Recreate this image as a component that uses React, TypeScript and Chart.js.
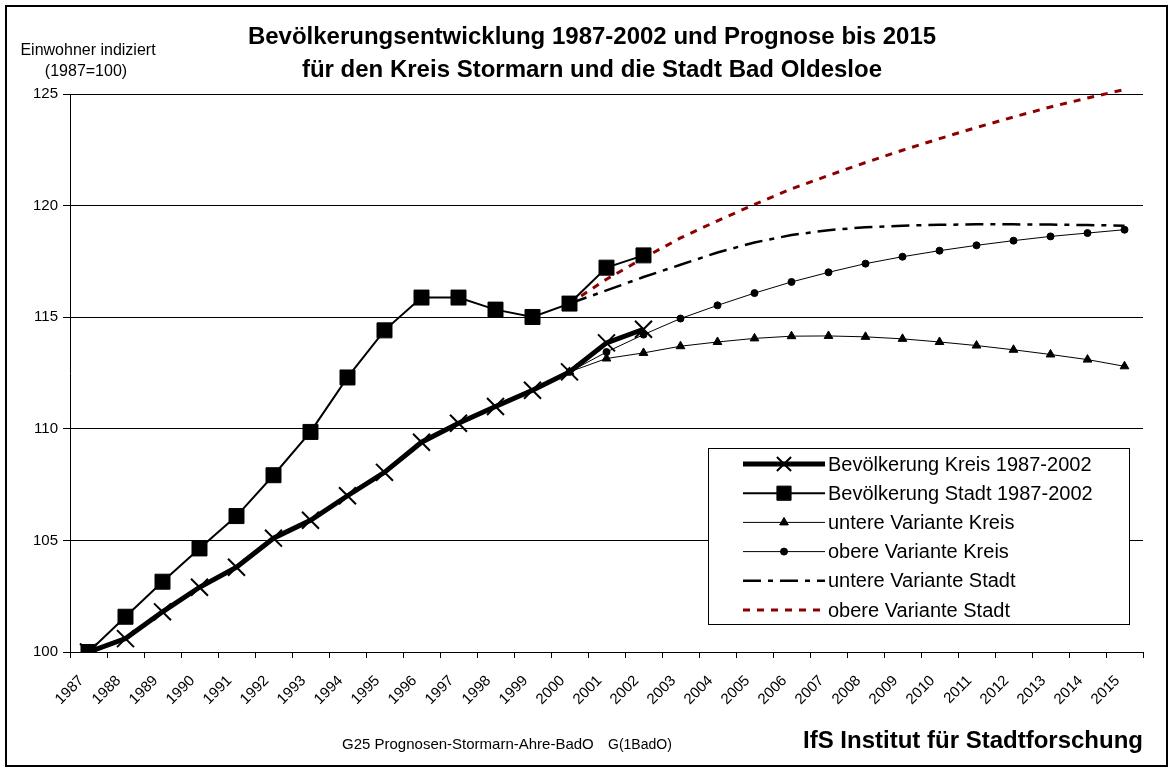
import React, { useEffect, useRef } from 'react';
import { Chart, registerables } from 'chart.js';
import { drawPoint } from 'chart.js/helpers';

Chart.register(...registerables);

const FONT = "'Liberation Sans', Arial, Helvetica, sans-serif";

const titleLines = [
  'Bevölkerungsentwicklung 1987-2002 und Prognose bis 2015',
  'für den Kreis Stormarn und die Stadt Bad Oldesloe',
];
const yTitleLines = ['Einwohner indiziert', '(1987=100)'];
const footerLeft = 'G25 Prognosen-Stormarn-Ahre-BadO';
const footerMid = 'G(1BadO)';
const footerRight = 'IfS Institut für Stadtforschung';

const years = [
  '1987', '1988', '1989', '1990', '1991', '1992', '1993', '1994', '1995', '1996',
  '1997', '1998', '1999', '2000', '2001', '2002', '2003', '2004', '2005', '2006',
  '2007', '2008', '2009', '2010', '2011', '2012', '2013', '2014', '2015',
];

const yTicks = [100, 105, 110, 115, 120, 125];

const N = null;
const kreis = [100, 100.6, 101.8, 102.9, 103.8, 105.1, 105.9, 107.0, 108.05, 109.4,
  110.25, 111.0, 111.73, 112.55, 113.85, 114.46, N, N, N, N, N, N, N, N, N, N, N, N, N];
const stadt = [100, 101.58, 103.15, 104.64, 106.09, 107.92, 109.86, 112.3, 114.41, 115.88,
  115.88, 115.34, 115.01, 115.61, 117.22, 117.77, N, N, N, N, N, N, N, N, N, N, N, N, N];
const untereKreis = [N, N, N, N, N, N, N, N, N, N, N, N, N,
  112.55, 113.15, 113.4, 113.7, 113.89, 114.05, 114.15, 114.16, 114.12, 114.03, 113.89, 113.73, 113.54, 113.33, 113.1, 112.8];
const obereKreis = [N, N, N, N, N, N, N, N, N, N, N, N, N,
  112.55, 113.44, 114.22, 114.94, 115.53, 116.08, 116.58, 117.01, 117.4, 117.71, 117.98, 118.22, 118.43, 118.62, 118.77, 118.92];
const untereStadt = [N, N, N, N, N, N, N, N, N, N, N, N, N,
  115.61, 116.2, 116.8, 117.35, 117.9, 118.35, 118.68, 118.9, 119.03, 119.1, 119.14, 119.16, 119.16, 119.15, 119.13, 119.1];
const obereStadt = [N, N, N, N, N, N, N, N, N, N, N, N, N,
  115.61, 116.7, 117.65, 118.55, 119.32, 120.05, 120.75, 121.35, 121.93, 122.48, 123.0, 123.5, 123.97, 124.42, 124.82, 125.2];

const seriesNames = [
  'Bevölkerung Kreis 1987-2002',
  'Bevölkerung Stadt 1987-2002',
  'untere Variante Kreis',
  'obere Variante Kreis',
  'untere Variante Stadt',
  'obere Variante Stadt',
];

const RED = '#8c0000';

const legendPlugin = {
  id: 'decorations',
  beforeDraw(chart: any) {
    const ctx = chart.ctx;
    ctx.save();
    ctx.fillStyle = '#fff';
    ctx.fillRect(0, 0, chart.width, chart.height);
    ctx.restore();
  },
  afterDraw(chart: any) {
    const ctx = chart.ctx as CanvasRenderingContext2D;
    ctx.save();
    // outer frame
    ctx.strokeStyle = '#000';
    ctx.lineWidth = 2;
    ctx.setLineDash([]);
    ctx.strokeRect(6, 6, 1161, 760);

    ctx.fillStyle = '#000';
    ctx.textBaseline = 'middle';
    ctx.textAlign = 'center';
    ctx.font = `bold 24px ${FONT}`;
    ctx.fillText(titleLines[0], 592, 37);
    ctx.fillText(titleLines[1], 592, 70);

    ctx.font = `16px ${FONT}`;
    ctx.fillText(yTitleLines[0], 88, 51);
    ctx.fillText(yTitleLines[1], 86, 72);

    ctx.textAlign = 'left';
    ctx.font = `15px ${FONT}`;
    ctx.fillText(footerLeft, 342, 745);
    ctx.font = `14px ${FONT}`;
    ctx.fillText(footerMid, 608, 745);

    ctx.textAlign = 'right';
    ctx.font = `bold 24px ${FONT}`;
    ctx.fillText(footerRight, 1143, 741);

    // legend box
    const bx = 708, by = 448, bw = 421, bh = 176;
    ctx.fillStyle = '#fff';
    ctx.fillRect(bx, by, bw, bh);
    ctx.strokeStyle = '#000';
    ctx.lineWidth = 1;
    ctx.strokeRect(bx + 0.5, by + 0.5, bw, bh);

    const legendRadius = [10, 10, 5, 3.5, 0, 0];
    chart.data.datasets.forEach((ds: any, i: number) => {
      const yy = 464 + i * 29.2;
      ctx.save();
      ctx.strokeStyle = ds.borderColor;
      ctx.lineWidth = ds.borderWidth;
      ctx.setLineDash(ds.borderDash || []);
      ctx.beginPath();
      ctx.moveTo(743, yy);
      ctx.lineTo(825, yy);
      ctx.stroke();
      ctx.setLineDash([]);
      if (legendRadius[i] > 0) {
        ctx.fillStyle = ds.pointBackgroundColor;
        ctx.strokeStyle = ds.pointBorderColor;
        ctx.lineWidth = ds.pointBorderWidth;
        drawPoint(ctx, {
          pointStyle: ds.pointStyle,
          radius: legendRadius[i],
          rotation: 0,
          borderWidth: ds.pointBorderWidth,
        } as any, 784, yy);
      }
      ctx.restore();
      ctx.fillStyle = '#000';
      ctx.textAlign = 'left';
      ctx.textBaseline = 'middle';
      ctx.font = `20px ${FONT}`;
      ctx.fillText(ds.label, 828, yy + 1);
    });
    ctx.restore();
  },
};

export default function App() {
  const ref = useRef<HTMLCanvasElement>(null);
  useEffect(() => {
    document.body.style.margin = '0';
    const canvas = ref.current!;
    const chart = new Chart(canvas, {
      type: 'line',
      data: {
        labels: years,
        datasets: [
          {
            label: seriesNames[0], data: kreis, order: 1,
            borderColor: '#000', borderWidth: 5, pointStyle: 'crossRot', pointRadius: 12,
            pointBorderWidth: 2, pointBorderColor: '#000', pointBackgroundColor: '#000',
          },
          {
            label: seriesNames[1], data: stadt, order: 0,
            borderColor: '#000', borderWidth: 2, pointStyle: 'rect', pointRadius: 10.6,
            pointBorderWidth: 1, pointBorderColor: '#000', pointBackgroundColor: '#000',
          },
          {
            label: seriesNames[2], data: untereKreis, order: 2,
            borderColor: '#000', borderWidth: 1, pointStyle: 'triangle', pointRadius: 5,
            pointBorderWidth: 1, pointBorderColor: '#000', pointBackgroundColor: '#000',
          },
          {
            label: seriesNames[3], data: obereKreis, order: 3,
            borderColor: '#000', borderWidth: 1, pointStyle: 'circle', pointRadius: 3.5,
            pointBorderWidth: 1, pointBorderColor: '#000', pointBackgroundColor: '#000',
          },
          {
            label: seriesNames[4], data: untereStadt, order: 4,
            borderColor: '#000', borderWidth: 2.5, borderDash: [18, 7, 5, 7], pointRadius: 0,
            pointStyle: 'line', pointBorderWidth: 0, pointBorderColor: '#000', pointBackgroundColor: '#000',
          },
          {
            label: seriesNames[5], data: obereStadt, order: 5, clip: false,
            borderColor: RED, borderWidth: 3, borderDash: [7, 7], pointRadius: 0,
            pointStyle: 'line', pointBorderWidth: 0, pointBorderColor: RED, pointBackgroundColor: RED,
          },
        ] as any,
      },
      options: {
        animation: false,
        responsive: false,
        devicePixelRatio: 1,
        spanGaps: false,
        layout: { padding: { left: 0, top: 94, right: 29, bottom: 0 } },
        elements: { line: { tension: 0 } },
        plugins: {
          legend: { display: false },
          title: { display: false },
          tooltip: { enabled: false },
        },
        scales: {
          x: {
            type: 'category',
            offset: true,
            grid: { offset: true, drawOnChartArea: false, color: '#000', tickLength: 6, lineWidth: 1 },
            border: { color: '#000', width: 1 },
            ticks: {
              autoSkip: false, minRotation: 45, maxRotation: 45, color: '#000',
              font: { family: FONT, size: 15 }, padding: 14, labelOffset: -7,
            },
            afterFit: (s: any) => { s.height = 117; },
          },
          y: {
            min: yTicks[0],
            max: yTicks[yTicks.length - 1],
            afterBuildTicks: (s: any) => { s.ticks = yTicks.map((v) => ({ value: v })); },
            grid: { color: '#000', lineWidth: 1, tickLength: 7 },
            border: { color: '#000', width: 1 },
            ticks: { color: '#000', font: { family: FONT, size: 15 }, padding: 5 },
            afterFit: (s: any) => { s.width = 70; },
          },
        },
      },
      plugins: [legendPlugin],
    } as any);
    return () => chart.destroy();
  }, []);
  return <canvas ref={ref} width={1172} height={769} style={{ display: 'block' }} />;
}
